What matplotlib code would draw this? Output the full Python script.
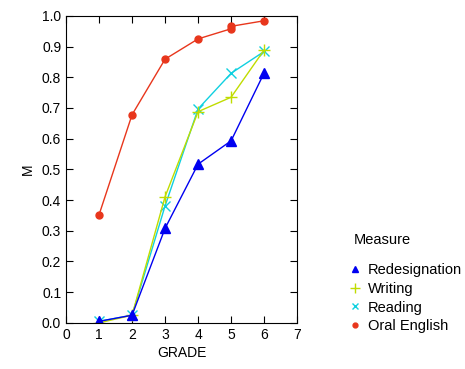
import numpy as np
import matplotlib
matplotlib.use('Agg')
import matplotlib.pyplot as plt
from matplotlib.lines import Line2D

plt.rcParams['font.family'] = ['Liberation Sans', 'DejaVu Sans']

grade = [1, 2, 3, 4, 5, 6]
redesignation = [0.005, 0.025, 0.308, 0.517, 0.593, 0.814]
writing = [0.0, 0.025, 0.411, 0.688, 0.735, 0.889]
reading = [0.005, 0.025, 0.381, 0.697, 0.813, 0.884]
oral_grade = [1, 2, 3, 4, 5, 5, 6]
oral_english = [0.352, 0.678, 0.859, 0.925, 0.958, 0.966, 0.984]

c_red = '#e8361c'
c_blue = '#0000f0'
c_yel = '#c0dc00'
c_cyan = '#10d0e0'

fig = plt.figure(figsize=(4.65, 3.69), dpi=100)
ax = fig.add_axes([0.142, 0.125, 0.497, 0.832])

ax.plot(oral_grade, oral_english, color=c_red, lw=1, marker='o', ms=5)
ax.plot(grade, reading, color=c_cyan, lw=1, marker='x', ms=7, mew=1)
ax.plot(grade, writing, color=c_yel, lw=1, marker='+', ms=9, mew=1)
ax.plot(grade, redesignation, color=c_blue, lw=1, marker='^', ms=7)

ax.set_xlim(0, 7)
ax.set_ylim(0, 1.0)
ax.set_xticks(range(0, 8))
ax.set_yticks(np.arange(0, 1.01, 0.1))
ax.set_yticklabels(['%.1f' % v for v in np.arange(0, 1.01, 0.1)])
ax.tick_params(direction='in', top=True, right=True, length=5, labelsize=10)
ax.set_xlabel('GRADE', fontsize=10, labelpad=3)
ax.set_ylabel('M', fontsize=10, labelpad=5)

# legend title placed separately (bigger gap than matplotlib gives)
fig.text(354 / 465, 1 - 240 / 369, 'Measure', fontsize=10.5, va='center', ha='left')
handles = [
    Line2D([], [], ls='none', marker='^', color=c_blue, ms=5),
    Line2D([], [], ls='none', marker='+', color=c_yel, ms=7),
    Line2D([], [], ls='none', marker='x', color=c_cyan, ms=5),
    Line2D([], [], ls='none', marker='o', color=c_red, ms=3.5),
]
labels = ['Redesignation', 'Writing', 'Reading', 'Oral English']
fig.legend(handles, labels, loc='upper left',
           bbox_to_anchor=(337.5 / 465, 1 - 253 / 369), frameon=False,
           fontsize=10.5, handlelength=1, handletextpad=0.39,
           labelspacing=0.32, borderpad=0.2)

fig.savefig('out.png', dpi=100)
